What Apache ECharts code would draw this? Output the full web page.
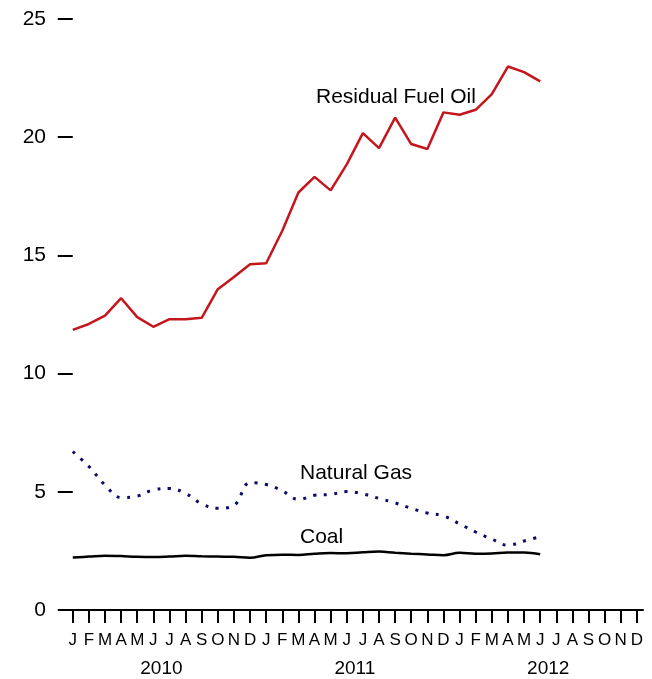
<!DOCTYPE html>
<html>
<head>
<meta charset="utf-8">
<script src="https://cdn.jsdelivr.net/npm/echarts@6/dist/echarts.min.js"></script>
<style>
html,body{margin:0;padding:0;background:#fff;}
#chart{width:652px;height:679px;}
</style>
</head>
<body>
<div id="chart"></div>
<script>
// Month letters for tick labels (Jan 2010 .. Dec 2012)
const monthLetters = ['J','F','M','A','M','J','J','A','S','O','N','D'];
const years = ['2010','2011','2012'];
const yTicks = [0, 5, 10, 15, 20, 25];

// Monthly values, Jan 2010 .. Jun 2012
const residualFuelOil = [11.85, 12.10, 12.45, 13.19, 12.39, 11.98, 12.30, 12.30, 12.36, 13.57,
  14.09, 14.63, 14.67, 16.04, 17.66, 18.32, 17.75, 18.85, 20.17, 19.54,
  20.83, 19.71, 19.50, 21.05, 20.95, 21.16, 21.82, 22.99, 22.75, 22.36];
const naturalGas = [6.70, 6.07, 5.29, 4.76, 4.82, 5.08, 5.14, 4.93, 4.49, 4.30,
  4.42, 5.39, 5.31, 5.04, 4.68, 4.85, 4.89, 5.01, 4.91, 4.72,
  4.53, 4.30, 4.10, 3.98, 3.64, 3.30, 3.00, 2.74, 2.92, 3.10];
const coal = [2.22, 2.26, 2.30, 2.28, 2.25, 2.24, 2.26, 2.29, 2.27, 2.26,
  2.25, 2.21, 2.32, 2.34, 2.33, 2.38, 2.41, 2.40, 2.44, 2.47,
  2.42, 2.38, 2.35, 2.32, 2.42, 2.38, 2.39, 2.43, 2.43, 2.36];

const seriesLabels = [
  {text: 'Residual Fuel Oil', at: [15.09, 21.71]},
  {text: 'Natural Gas', at: [14.1, 5.80]},
  {text: 'Coal', at: [14.1, 3.08]}
];

const FONT = '"Liberation Sans", Arial, sans-serif';
const monthIdx = Array.from({length: 36}, (_, i) => i);
const yearPos = years.map((_, k) => k * 12 + 5.5);
const toXY = arr => arr.map((v, i) => [i, v]);

const chart = echarts.init(document.getElementById('chart'), null, {renderer: 'canvas'});
const option = {
  animation: false,
  backgroundColor: '#fff',
  grid: {left: 66, right: 9, top: 19, bottom: 69, containLabel: false, outerBoundsMode: 'none'},
  xAxis: [
    {
      type: 'value', min: -0.42, max: 35.38, position: 'bottom',
      splitLine: {show: false},
      axisLine: {show: true, onZero: false, lineStyle: {color: '#000', width: 2}},
      axisTick: {show: true, customValues: monthIdx, length: 13, lineStyle: {color: '#000', width: 2}},
      axisLabel: {
        customValues: monthIdx, margin: 22, fontSize: 17, color: '#000', fontFamily: FONT,
        formatter: v => monthLetters[Math.round(v) % 12]
      }
    },
    {
      type: 'value', min: -0.42, max: 35.38, position: 'bottom',
      splitLine: {show: false},
      axisLine: {show: false},
      axisTick: {show: false},
      axisLabel: {
        customValues: yearPos, margin: 49, fontSize: 19, color: '#000', fontFamily: FONT,
        formatter: v => years[Math.floor(v / 12)]
      }
    }
  ],
  yAxis: {
    type: 'value', min: 0, max: 25, interval: 5,
    splitLine: {show: false},
    axisLine: {show: false},
    axisTick: {show: true, length: 15, lineStyle: {color: '#000', width: 2}},
    axisLabel: {margin: 20, fontSize: 21, color: '#000', fontFamily: FONT,
      customValues: yTicks}
  },
  series: [
    {
      name: 'Residual Fuel Oil', type: 'line', data: toXY(residualFuelOil),
      showSymbol: false, symbol: 'none',
      lineStyle: {color: '#c4161c', width: 2.5}
    },
    {
      name: 'Natural Gas', type: 'line', data: toXY(naturalGas),
      showSymbol: false, symbol: 'none', smooth: 0.4,
      lineStyle: {color: '#0b0b6b', width: 3, type: [3, 7.5], cap: 'butt'}
    },
    {
      name: 'Coal', type: 'line', data: toXY(coal),
      showSymbol: false, symbol: 'none', smooth: 0.4,
      lineStyle: {color: '#000', width: 2.5}
    }
  ]
};
chart.setOption(option);

const graphics = seriesLabels.map(l => {
  const p = chart.convertToPixel({xAxisIndex: 0, yAxisIndex: 0}, l.at);
  return {
    type: 'text', x: p[0], y: p[1],
    style: {text: l.text, fontSize: 21, fontFamily: FONT, fill: '#000',
      textAlign: 'left', textVerticalAlign: 'middle', verticalAlign: 'middle'}
  };
});
chart.setOption({graphic: graphics});
</script>
</body>
</html>
